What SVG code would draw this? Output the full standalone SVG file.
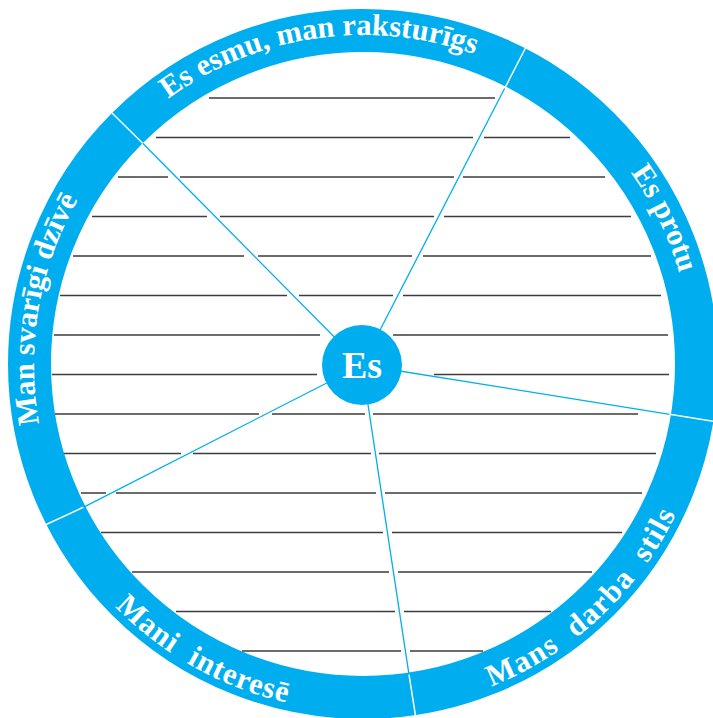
<svg xmlns="http://www.w3.org/2000/svg" xmlns:xlink="http://www.w3.org/1999/xlink" width="713" height="718" viewBox="0 0 713 718">
  <style>
    .ring { fill: none; stroke: #00AEEF; stroke-width: 43; }
    .rule { fill: none; stroke: #3d3d3d; stroke-width: 1.5; }
    .spoke { fill: none; stroke: #00AEEF; stroke-width: 1.3; }
    .divider { fill: none; stroke: #ffffff; stroke-width: 1.5; }
    .label { font-family: "Liberation Serif", "Times New Roman", serif; font-weight: bold; font-size: 30.5px; fill: #ffffff; }
    .hub { font-family: "Liberation Serif", "Times New Roman", serif; font-weight: bold; font-size: 38px; fill: #ffffff; }
  </style>
  <defs>
    <path id="arcTop" d="M 77.4 200.8 A 329 329 0 0 1 590.5 126.3"/>
    <path id="arcRight" d="M 547.9 91.9 A 329 329 0 0 1 691.1 388.1"/>
    <path id="arcLeft" d="M 78.8 529.8 A 329 329 0 0 1 150.6 112.7"/>
    <path id="arcBottomLeft" d="M 38.8 487.8 A 347 347 0 0 0 428.6 704.8"/>
    <path id="arcBottomRight" d="M 382.1 710.5 A 347 347 0 0 0 707.5 405.4"/>
  </defs>
  <rect width="713" height="718" fill="#ffffff"/>

  <g id="writing-lines">
    <path class="rule" d="M209 98H495
      M156 137.5H473 M484 137.5H570
      M118 177H168 M180 177H454 M463 177H605
      M92 216.5H207 M220 216.5H434 M444 216.5H631
      M73 256H244 M258 256H412 M423 256H651
      M60 295.5H287 M299 295.5H393 M403 295.5H661
      M54 335H320 M393 335H668
      M52 374.5H317 M434 374.5H669
      M55 414H259 M272 414H365 M373 414H638
      M63 453.5H181 M193 453.5H371 M379 453.5H656
      M81 493H106 M116 493H376 M385 493H642
      M101 532.5H383 M392 532.5H622
      M132 572H389 M398 572H592
      M176 611.5H395 M404 611.5H551
      M242 651H401 M410 651H483"/>
  </g>

  <g id="ring">
    <circle class="ring" cx="363" cy="364" r="333.5"/>
  </g>

  <g id="connectors">
    <line class="spoke" x1="362" y1="365" x2="504.7" y2="88.3"/>
    <line class="spoke" x1="362" y1="365" x2="142.7" y2="143.3"/>
    <line class="spoke" x1="362" y1="365" x2="669.7" y2="414.3"/>
    <line class="spoke" x1="362" y1="365" x2="409" y2="674.7"/>
    <line class="spoke" x1="362" y1="365" x2="83.3" y2="507.3"/>
    <line class="divider" x1="504.7" y1="88.3" x2="526" y2="47"/>
    <line class="divider" x1="142.7" y1="143.3" x2="111" y2="112"/>
    <line class="divider" x1="669.7" y1="414.3" x2="720" y2="422.3"/>
    <line class="divider" x1="409" y1="674.7" x2="416.5" y2="722"/>
    <line class="divider" x1="83.3" y1="507.3" x2="43" y2="526"/>
  </g>

  <g id="node-top">
    <text class="label"><textPath xlink:href="#arcTop" href="#arcTop" startOffset="50%" text-anchor="middle">Es esmu, man raksturīgs</textPath></text>
  </g>
  <g id="node-right">
    <text class="label"><textPath xlink:href="#arcRight" href="#arcRight" startOffset="50%" text-anchor="middle">Es protu</textPath></text>
  </g>
  <g id="node-bottom-right">
    <text class="label" letter-spacing="1.5"><textPath xlink:href="#arcBottomRight" href="#arcBottomRight" startOffset="50%" text-anchor="middle">Mans&#160; darba&#160; stils</textPath></text>
  </g>
  <g id="node-bottom-left">
    <text class="label" letter-spacing="1"><textPath xlink:href="#arcBottomLeft" href="#arcBottomLeft" startOffset="50%" text-anchor="middle">Mani&#160; interesē</textPath></text>
  </g>
  <g id="node-left">
    <text class="label"><textPath xlink:href="#arcLeft" href="#arcLeft" startOffset="50%" text-anchor="middle">Man svarīgi dzīvē</textPath></text>
  </g>

  <g id="node-center">
    <circle cx="362" cy="365" r="40" fill="#00AEEF"/>
    <text class="hub" x="362" y="378" text-anchor="middle">Es</text>
  </g>
</svg>
